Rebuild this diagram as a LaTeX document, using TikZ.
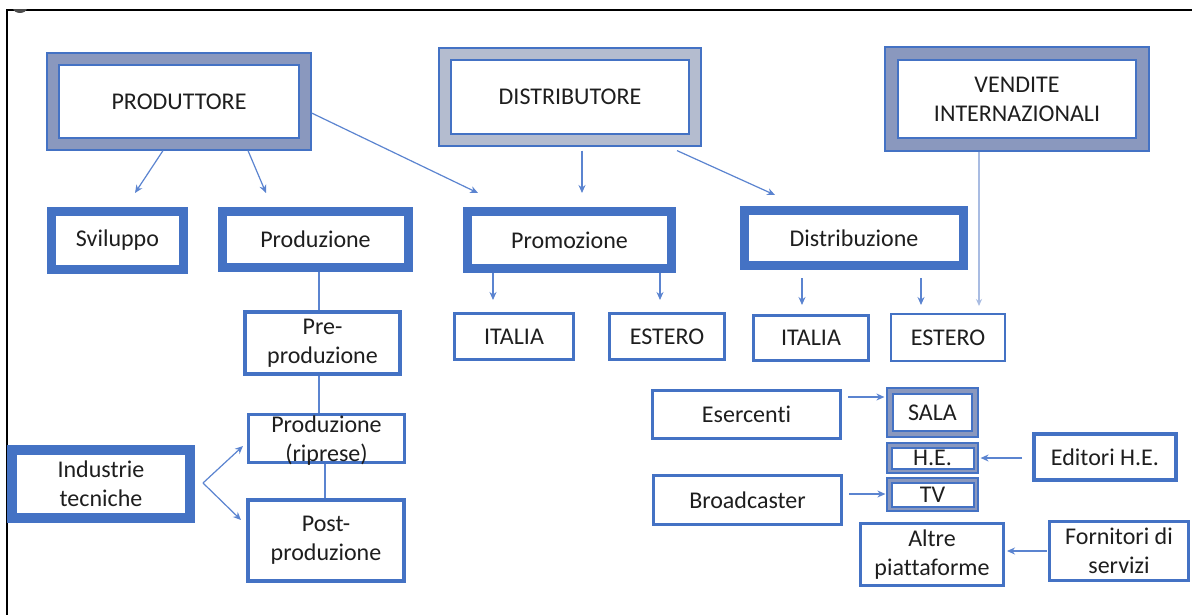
\documentclass[tikz,border=0pt]{standalone}
\usepackage{fontspec}
\setmainfont{Carlito}[Ligatures={NoCommon}]
\usetikzlibrary{arrows.meta,calc}
\definecolor{bl}{HTML}{4472C4}
\definecolor{hdrc}{HTML}{8A98BE}
\definecolor{hdrl}{HTML}{B4BCCF}
\definecolor{txtc}{HTML}{1E1E1E}
\definecolor{lnc}{HTML}{5B84D0}
\definecolor{lnl}{HTML}{A9BCE2}
\tikzset{
  box/.style={draw=bl, fill=white, inner sep=0pt, align=center, text=txtc,
    font=\fontsize{24}{29}\selectfont},
  thickbox/.style={box, line width=9pt},
  midbox/.style={box, line width=4pt},
  thinbox/.style={box, line width=3pt},
  plaintext/.style={inner sep=0pt, align=center, text=txtc, font=\fontsize{24}{29}\selectfont},
  hdrbox/.style n args={2}{box, fill=#1, line width=1.2pt,
    path picture={\draw[bl, line width=2pt, fill=white]
      ([shift={(#2,-#2)}]path picture bounding box.north west) rectangle
      ([shift={(-#2,#2)}]path picture bounding box.south east);}},
  arr/.style={-{Stealth[length=8pt,width=7pt]}, draw=lnc, line width=1.2pt},
  conn/.style={draw=lnc, line width=1.2pt},
}
\begin{document}
\begin{tikzpicture}[x=1pt,y=-1pt]
\useasboundingbox (0,0) rectangle (1192,615);
\fill[white] (0,0) rectangle (1192,615);
% outer frame
\draw[line width=1.5pt] (7,615) -- (7,10) -- (1192,10);
\begin{scope}
\clip (0,10) rectangle (40,20);
\fill[black!70] (20,8) ellipse (7pt and 5pt);
\end{scope}

% header boxes
\node[hdrbox={hdrc}{12pt}, minimum width=264pt, minimum height=97pt] (prod) at (179,101.5) {PRODUTTORE};
\node[hdrbox={hdrl}{12pt}, minimum width=262pt, minimum height=98pt] (dist) at (570,97) {DISTRIBUTORE};
\node[hdrbox={hdrc}{13pt}, minimum width=264pt, minimum height=104pt] (vend) at (1017,99) {VENDITE\\INTERNAZIONALI};

% second row
\node[thickbox, minimum width=132pt, minimum height=58pt] (svil) at (117.5,240.5) {Sviluppo};
\node[thickbox, minimum width=186pt, minimum height=56pt] (produz) at (315.5,239.5) {Produzione};
\node[thickbox, minimum width=204pt, minimum height=57pt] (promo) at (569.5,240) {Promozione};
\node[thickbox, minimum width=219pt, minimum height=55pt] (distr) at (854,238) {Distribuzione};

% production chain
\node[midbox, minimum width=155pt, minimum height=62pt] (pre) at (322.5,343) {Pre-\\produzione};
\node[thinbox, minimum width=156pt, minimum height=48pt] (ripr) at (326.5,438.5) {};
\node[plaintext] (riprtxt) at (326.5,441) {Produzione\\(riprese)};
\node[midbox, minimum width=156pt, minimum height=81pt] (post) at (326,540.5) {Post-\\produzione};
\node[thickbox, line width=10pt, minimum width=178pt, minimum height=68pt] (ind) at (101,484) {Industrie\\tecniche};

% third row
\node[thinbox, minimum width=119pt, minimum height=46pt] (it1) at (514,336.5) {ITALIA};
\node[thinbox, minimum width=115pt, minimum height=46pt] (es1) at (667,336.5) {ESTERO};
\node[thinbox, minimum width=115pt, minimum height=45pt] (it2) at (811,338) {ITALIA};
\node[thinbox, line width=2pt, minimum width=114pt, minimum height=47pt] (es2) at (948,337.5) {ESTERO};

% channels
\node[thinbox, line width=3.5pt, minimum width=188pt, minimum height=48pt] (eser) at (746.5,414.5) {Esercenti};
\node[thinbox, line width=3.5pt, minimum width=188pt, minimum height=49pt] (broad) at (747.5,500) {Broadcaster};
\node[hdrbox={hdrc}{6pt}, minimum width=91pt, minimum height=49pt] (sala) at (932.5,412.5) {SALA};
\node[hdrbox={hdrc}{4.5pt}, minimum width=91pt, minimum height=30pt] (he) at (932.5,458) {H.E.};
\node[hdrbox={hdrc}{4.5pt}, minimum width=91pt, minimum height=33pt] (tv) at (932.5,494.5) {TV};
\node[thinbox, minimum width=143pt, minimum height=62pt] (altre) at (932,554.5) {Altre\\piattaforme};
\node[midbox, minimum width=142pt, minimum height=46pt] (edit) at (1105,457) {Editori H.E.};
\node[thinbox, minimum width=139pt, minimum height=59pt] (forn) at (1119,551) {Fornitori di\\servizi};

% arrows from headers
\draw[arr] ([xshift=-16pt]prod.south) -- ([xshift=17.5pt,yshift=14pt]svil.north);
\draw[arr] ([xshift=69pt]prod.south) -- ([xshift=-49.5pt,yshift=14pt]produz.north);
\draw[arr] ([yshift=-11.5pt]prod.east) -- ([xshift=-91.5pt,yshift=14pt]promo.north);
\draw[arr] ([xshift=12pt,yshift=-4pt]dist.south) -- ([xshift=12.5pt,yshift=14pt]promo.north);
\draw[arr] ([xshift=107pt,yshift=-4pt]dist.south) -- ([xshift=-79pt,yshift=11pt]distr.north);
\draw[-{Stealth[length=7pt,width=6pt]}, draw=lnl, line width=2pt] ([xshift=-38pt]vend.south) -- ([xshift=31pt,yshift=7pt]es2.north);

% arrows to third row
\draw[arr] ([xshift=-76.5pt]promo.south) -- ([xshift=-21pt,yshift=12pt]it1.north);
\draw[arr] ([xshift=90.5pt]promo.south) -- ([xshift=-7pt,yshift=12pt]es1.north);
\draw[arr] ([xshift=-52pt,yshift=-8pt]distr.south) -- ([xshift=-9pt,yshift=9pt]it2.north);
\draw[arr] ([xshift=67pt,yshift=-8pt]distr.south) -- ([xshift=-27pt,yshift=8pt]es2.north);

% production chain lines
\draw[conn] ([xshift=3.5pt]produz.south) -- ([xshift=-3.5pt]pre.north);
\draw[conn] ([xshift=-3.5pt]pre.south) -- ([xshift=-7.5pt]ripr.north);
\draw[conn] ([xshift=-1.5pt]ripr.south) -- ([xshift=-1pt]post.north);

% industrie tecniche fork
\coordinate (fork) at ([xshift=8pt,yshift=1pt]ind.east);
\draw[arr] (fork) -- ([xshift=-4pt,yshift=-7.5pt]ripr.west);
\draw[arr] (fork) -- ([xshift=-5pt,yshift=20.5pt]post.west);

% channel arrows
\draw[arr] ([xshift=6pt,yshift=17.5pt]eser.east) -- ([xshift=-2pt,yshift=15.5pt]sala.west);
\draw[arr] ([xshift=-10pt,yshift=-1pt]edit.west) -- ([xshift=2pt]he.east);
\draw[arr] ([xshift=6pt,yshift=6pt]broad.east) -- ([xshift=-1pt,yshift=0.5pt]tv.west);
\draw[arr] ([xshift=-1pt]forn.west) -- ([xshift=2pt,yshift=3.5pt]altre.east);
\end{tikzpicture}
\end{document}
